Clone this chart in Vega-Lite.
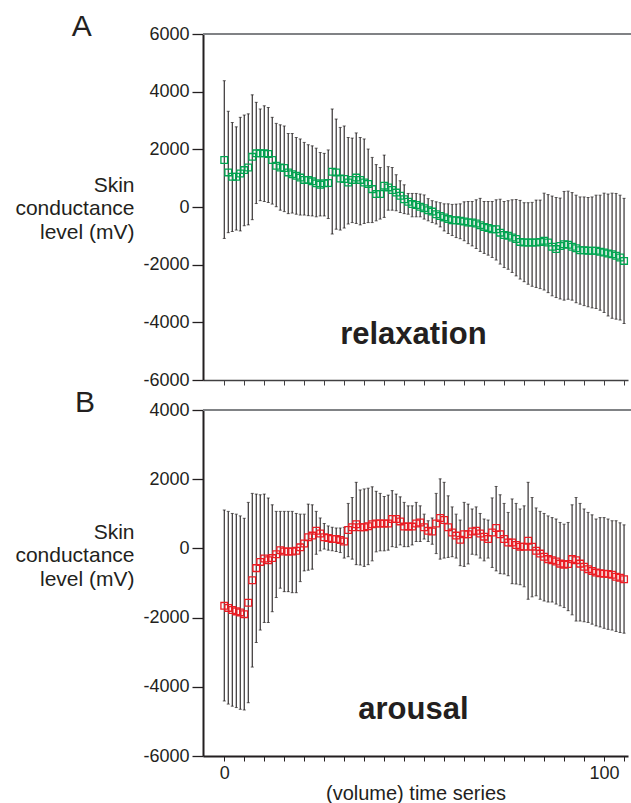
{
  "$schema": "https://vega.github.io/schema/vega-lite/v6.json",
  "background": "white",
  "padding": {"left": 14, "top": 11, "right": 0, "bottom": 0},
  "bounds": "flush",
  "spacing": 30,
  "config": {
    "view": {"stroke": null},
    "font": "Liberation Sans",
    "text": {"font": "Liberation Sans", "color": "#231f20"},
    "axis": {"labelOverlap": false, "labelFlush": false}
  },
  "datasets": {
    "relax": [
      {"t":0,"m":1630,"lo":-1090,"hi":4380},{"t":1.05,"m":1200,"lo":-890,"hi":3320},{"t":2.11,"m":1050,"lo":-850,"hi":2930},{"t":3.16,"m":1050,"lo":-800,"hi":2780},{"t":4.21,"m":1160,"lo":-830,"hi":3110},{"t":5.26,"m":1280,"lo":-650,"hi":3190},{"t":6.32,"m":1370,"lo":-620,"hi":3230},{"t":7.37,"m":1740,"lo":-440,"hi":3890},{"t":8.42,"m":1860,"lo":120,"hi":3630},{"t":9.47,"m":1860,"lo":220,"hi":3400},
      {"t":10.53,"m":1860,"lo":190,"hi":3510},{"t":11.58,"m":1840,"lo":160,"hi":3450},{"t":12.63,"m":1630,"lo":100,"hi":3110},{"t":13.68,"m":1430,"lo":10,"hi":2900},{"t":14.74,"m":1370,"lo":-110,"hi":2850},{"t":15.79,"m":1350,"lo":-160,"hi":2810},{"t":16.84,"m":1200,"lo":-230,"hi":2550},{"t":17.89,"m":1140,"lo":-210,"hi":2550},{"t":18.95,"m":1080,"lo":-250,"hi":2410},{"t":20,"m":1020,"lo":-280,"hi":2360},
      {"t":21.05,"m":940,"lo":-280,"hi":2240},{"t":22.11,"m":940,"lo":-300,"hi":2160},{"t":23.16,"m":890,"lo":-310,"hi":2120},{"t":24.21,"m":820,"lo":-340,"hi":2040},{"t":25.26,"m":770,"lo":-310,"hi":1890},{"t":26.32,"m":820,"lo":-310,"hi":1860},{"t":27.37,"m":830,"lo":-400,"hi":1980},{"t":28.42,"m":1220,"lo":-940,"hi":3400},{"t":29.47,"m":1200,"lo":-770,"hi":3050},{"t":30.53,"m":990,"lo":-800,"hi":2760},
      {"t":31.58,"m":970,"lo":-730,"hi":2810},{"t":32.63,"m":850,"lo":-590,"hi":2410},{"t":33.68,"m":940,"lo":-540,"hi":2390},{"t":34.74,"m":1020,"lo":-570,"hi":2570},{"t":35.79,"m":940,"lo":-620,"hi":2410},{"t":36.84,"m":850,"lo":-570,"hi":2360},{"t":37.89,"m":800,"lo":-540,"hi":2010},{"t":38.95,"m":620,"lo":-540,"hi":1720},{"t":40,"m":450,"lo":-480,"hi":1470},{"t":41.05,"m":450,"lo":-420,"hi":1370},
      {"t":42.11,"m":740,"lo":-360,"hi":1800},{"t":43.16,"m":680,"lo":-110,"hi":1400},{"t":44.21,"m":590,"lo":-110,"hi":1370},{"t":45.26,"m":500,"lo":-130,"hi":1120},{"t":46.32,"m":390,"lo":-190,"hi":910},{"t":47.37,"m":270,"lo":-230,"hi":770},{"t":48.42,"m":180,"lo":-250,"hi":470},{"t":49.47,"m":100,"lo":-340,"hi":470},{"t":50.53,"m":70,"lo":-340,"hi":470},{"t":51.58,"m":10,"lo":-340,"hi":450},
      {"t":52.63,"m":-40,"lo":-420,"hi":420},{"t":53.68,"m":-110,"lo":-480,"hi":290},{"t":54.74,"m":-160,"lo":-540,"hi":220},{"t":55.79,"m":-250,"lo":-590,"hi":180},{"t":56.84,"m":-310,"lo":-690,"hi":150},{"t":57.89,"m":-360,"lo":-830,"hi":110},{"t":58.95,"m":-420,"lo":-920,"hi":110},{"t":60,"m":-460,"lo":-990,"hi":90},{"t":61.05,"m":-460,"lo":-1060,"hi":100},{"t":62.11,"m":-480,"lo":-1100,"hi":110},
      {"t":63.16,"m":-500,"lo":-1170,"hi":180},{"t":64.21,"m":-540,"lo":-1270,"hi":190},{"t":65.26,"m":-540,"lo":-1350,"hi":190},{"t":66.32,"m":-570,"lo":-1440,"hi":250},{"t":67.37,"m":-630,"lo":-1540,"hi":300},{"t":68.42,"m":-690,"lo":-1610,"hi":190},{"t":69.47,"m":-730,"lo":-1670,"hi":190},{"t":70.53,"m":-770,"lo":-1750,"hi":190},{"t":71.58,"m":-770,"lo":-1840,"hi":250},{"t":72.63,"m":-890,"lo":-1980,"hi":270},
      {"t":73.68,"m":-970,"lo":-2100,"hi":190},{"t":74.74,"m":-1000,"lo":-2160,"hi":220},{"t":75.79,"m":-1060,"lo":-2270,"hi":250},{"t":76.84,"m":-1110,"lo":-2390,"hi":260},{"t":77.89,"m":-1210,"lo":-2500,"hi":230},{"t":78.95,"m":-1230,"lo":-2590,"hi":150},{"t":80,"m":-1230,"lo":-2680,"hi":150},{"t":81.05,"m":-1230,"lo":-2750,"hi":160},{"t":82.11,"m":-1230,"lo":-2790,"hi":240},{"t":83.16,"m":-1210,"lo":-2830,"hi":240},
      {"t":84.21,"m":-1170,"lo":-2880,"hi":480},{"t":85.26,"m":-1230,"lo":-2970,"hi":430},{"t":86.32,"m":-1380,"lo":-3080,"hi":380},{"t":87.37,"m":-1460,"lo":-3140,"hi":330},{"t":88.42,"m":-1350,"lo":-3190,"hi":310},{"t":89.47,"m":-1290,"lo":-3230,"hi":540},{"t":90.53,"m":-1310,"lo":-3200,"hi":550},{"t":91.58,"m":-1380,"lo":-3230,"hi":500},{"t":92.63,"m":-1430,"lo":-3320,"hi":410},{"t":93.68,"m":-1500,"lo":-3370,"hi":350},
      {"t":94.74,"m":-1500,"lo":-3420,"hi":350},{"t":95.79,"m":-1520,"lo":-3460,"hi":330},{"t":96.84,"m":-1520,"lo":-3500,"hi":350},{"t":97.89,"m":-1520,"lo":-3520,"hi":410},{"t":98.95,"m":-1550,"lo":-3580,"hi":410},{"t":100,"m":-1580,"lo":-3660,"hi":480},{"t":101.05,"m":-1610,"lo":-3780,"hi":450},{"t":102.11,"m":-1640,"lo":-3860,"hi":480},{"t":103.16,"m":-1690,"lo":-3890,"hi":470},{"t":104.21,"m":-1750,"lo":-3920,"hi":410},
      {"t":105.26,"m":-1870,"lo":-4040,"hi":300}
    ],
    "arousal": [
      {"t":0,"m":-1660,"lo":-4410,"hi":1110},{"t":1.05,"m":-1720,"lo":-4500,"hi":1070},{"t":2.11,"m":-1780,"lo":-4560,"hi":1010},{"t":3.16,"m":-1820,"lo":-4600,"hi":990},{"t":4.21,"m":-1850,"lo":-4650,"hi":940},{"t":5.26,"m":-1900,"lo":-4670,"hi":870},{"t":6.32,"m":-1570,"lo":-4460,"hi":1330},{"t":7.37,"m":-920,"lo":-3430,"hi":1590},{"t":8.42,"m":-570,"lo":-2720,"hi":1570},{"t":9.47,"m":-390,"lo":-2360,"hi":1550},
      {"t":10.53,"m":-290,"lo":-2140,"hi":1570},{"t":11.58,"m":-340,"lo":-2140,"hi":1460},{"t":12.63,"m":-280,"lo":-1830,"hi":1260},{"t":13.68,"m":-170,"lo":-1420,"hi":1070},{"t":14.74,"m":-50,"lo":-1150,"hi":1070},{"t":15.79,"m":-90,"lo":-1250,"hi":1070},{"t":16.84,"m":-90,"lo":-1250,"hi":1070},{"t":17.89,"m":-90,"lo":-1280,"hi":1070},{"t":18.95,"m":-70,"lo":-1280,"hi":1010},{"t":20,"m":30,"lo":-960,"hi":990},
      {"t":21.05,"m":140,"lo":-650,"hi":990},{"t":22.11,"m":320,"lo":-630,"hi":1280},{"t":23.16,"m":370,"lo":-600,"hi":1260},{"t":24.21,"m":510,"lo":-170,"hi":1070},{"t":25.26,"m":430,"lo":-70,"hi":880},{"t":26.32,"m":320,"lo":-20,"hi":720},{"t":27.37,"m":300,"lo":-50,"hi":650},{"t":28.42,"m":270,"lo":-70,"hi":610},{"t":29.47,"m":270,"lo":-90,"hi":590},{"t":30.53,"m":240,"lo":-120,"hi":590},
      {"t":31.58,"m":200,"lo":-280,"hi":610},{"t":32.63,"m":530,"lo":-240,"hi":1300},{"t":33.68,"m":610,"lo":-310,"hi":1470},{"t":34.74,"m":700,"lo":-470,"hi":1910},{"t":35.79,"m":610,"lo":-480,"hi":1690},{"t":36.84,"m":610,"lo":-520,"hi":1720},{"t":37.89,"m":640,"lo":-470,"hi":1740},{"t":38.95,"m":700,"lo":-360,"hi":1780},{"t":40,"m":720,"lo":-100,"hi":1650},{"t":41.05,"m":720,"lo":-70,"hi":1590},
      {"t":42.11,"m":720,"lo":-70,"hi":1500},{"t":43.16,"m":720,"lo":-50,"hi":1540},{"t":44.21,"m":850,"lo":50,"hi":1670},{"t":45.26,"m":850,"lo":30,"hi":1570},{"t":46.32,"m":780,"lo":100,"hi":1490},{"t":47.37,"m":630,"lo":50,"hi":1330},{"t":48.42,"m":630,"lo":50,"hi":1230},{"t":49.47,"m":630,"lo":100,"hi":1230},{"t":50.53,"m":720,"lo":200,"hi":1330},{"t":51.58,"m":750,"lo":200,"hi":1230},
      {"t":52.63,"m":610,"lo":270,"hi":990},{"t":53.68,"m":510,"lo":200,"hi":800},{"t":54.74,"m":490,"lo":120,"hi":880},{"t":55.79,"m":720,"lo":-150,"hi":1590},{"t":56.84,"m":880,"lo":-310,"hi":2010},{"t":57.89,"m":820,"lo":-280,"hi":1910},{"t":58.95,"m":610,"lo":-260,"hi":1520},{"t":60,"m":460,"lo":-240,"hi":1200},{"t":61.05,"m":370,"lo":-280,"hi":990},{"t":62.11,"m":250,"lo":-500,"hi":820},
      {"t":63.16,"m":410,"lo":-520,"hi":1330},{"t":64.21,"m":410,"lo":-450,"hi":1280},{"t":65.26,"m":490,"lo":-170,"hi":1140},{"t":66.32,"m":510,"lo":-190,"hi":1200},{"t":67.37,"m":430,"lo":-280,"hi":1010},{"t":68.42,"m":340,"lo":-360,"hi":850},{"t":69.47,"m":270,"lo":-280,"hi":820},{"t":70.53,"m":460,"lo":-550,"hi":1460},{"t":71.58,"m":590,"lo":-650,"hi":1790},{"t":72.63,"m":410,"lo":-730,"hi":1550},
      {"t":73.68,"m":270,"lo":-740,"hi":1300},{"t":74.74,"m":170,"lo":-790,"hi":1040},{"t":75.79,"m":170,"lo":-1020,"hi":1430},{"t":76.84,"m":100,"lo":-1030,"hi":1300},{"t":77.89,"m":50,"lo":-1050,"hi":1140},{"t":78.95,"m":50,"lo":-1110,"hi":1230},{"t":80,"m":220,"lo":-1470,"hi":1910},{"t":81.05,"m":50,"lo":-1400,"hi":1470},{"t":82.11,"m":-70,"lo":-1370,"hi":1170},{"t":83.16,"m":-150,"lo":-1470,"hi":1070},
      {"t":84.21,"m":-240,"lo":-1520,"hi":1010},{"t":85.26,"m":-310,"lo":-1550,"hi":940},{"t":86.32,"m":-340,"lo":-1550,"hi":890},{"t":87.37,"m":-380,"lo":-1610,"hi":850},{"t":88.42,"m":-440,"lo":-1660,"hi":750},{"t":89.47,"m":-470,"lo":-1710,"hi":700},{"t":90.53,"m":-450,"lo":-1800,"hi":750},{"t":91.58,"m":-310,"lo":-1920,"hi":1260},{"t":92.63,"m":-340,"lo":-2100,"hi":1470},{"t":93.68,"m":-440,"lo":-2100,"hi":1300},
      {"t":94.74,"m":-530,"lo":-2120,"hi":1140},{"t":95.79,"m":-600,"lo":-2140,"hi":1040},{"t":96.84,"m":-650,"lo":-2190,"hi":970},{"t":97.89,"m":-700,"lo":-2240,"hi":850},{"t":98.95,"m":-720,"lo":-2270,"hi":890},{"t":100,"m":-730,"lo":-2310,"hi":890},{"t":101.05,"m":-740,"lo":-2340,"hi":850},{"t":102.11,"m":-760,"lo":-2360,"hi":800},{"t":103.16,"m":-820,"lo":-2400,"hi":800},{"t":104.21,"m":-850,"lo":-2430,"hi":740},
      {"t":105.26,"m":-890,"lo":-2450,"hi":680}
    ]
  },
  "vconcat": [
    {
      "width": 425,
      "height": 346,
      "layer": [
        {
          "data": {"name": "relax"},
          "mark": {"type": "rule", "color": "#231f20", "strokeWidth": 1.1},
          "encoding": {
            "x": {"field": "t", "type": "quantitative",
              "scale": {"domain": [-5.6, 106.3], "nice": false, "zero": false},
              "axis": {"orient": "bottom", "values": [0,5.263,10.526,15.789,21.053,26.316,31.579,36.842,42.105,47.368,52.632,57.895,63.158,68.421,73.684,78.947,84.211,89.474,94.737,100,105.263], "tickCount": 40,
                "labels": false, "title": null, "grid": false, "tickSize": 5, "tickColor": "#414042", "tickWidth": 1, "domainColor": "#414042", "domainWidth": 1.5}},
            "y": {"field": "lo", "type": "quantitative",
              "scale": {"domain": [-6000, 6000], "nice": false, "zero": false},
              "axis": {"values": [-6000,-4000,-2000,0,2000,4000,6000], "labelExpr": "toString(datum.value)", "grid": false, "tickSize": 11, "tickColor": "#231f20", "tickWidth": 1.3,
                "domainColor": "#231f20", "domainWidth": 2, "labelFontSize": 18, "labelColor": "#231f20", "labelPadding": 3, "labelFont": "Liberation Sans",
                "title": ["Skin", "conductance", "level (mV)"], "titleAngle": 0, "titleAlign": "right", "titleBaseline": "alphabetic",
                "titleX": -69, "titleY": 157, "titleFontSize": 21, "titleFontWeight": "normal", "titleLineHeight": 23.5, "titleColor": "#231f20", "titleFont": "Liberation Sans"}},
            "y2": {"field": "hi"}
          }
        },
        {
          "data": {"name": "relax"},
          "mark": {"type": "tick", "orient": "horizontal", "size": 3, "thickness": 1, "color": "#231f20"},
          "encoding": {"x": {"field": "t", "type": "quantitative"}, "y": {"field": "hi", "type": "quantitative"}}
        },
        {
          "data": {"name": "relax"},
          "mark": {"type": "tick", "orient": "horizontal", "size": 3, "thickness": 1, "color": "#231f20"},
          "encoding": {"x": {"field": "t", "type": "quantitative"}, "y": {"field": "lo", "type": "quantitative"}}
        },
        {
          "data": {"name": "relax"},
          "mark": {"type": "point", "shape": "square", "filled": false, "size": 45, "strokeWidth": 1.3, "color": "#00a651", "opacity": 1},
          "encoding": {"x": {"field": "t", "type": "quantitative"}, "y": {"field": "m", "type": "quantitative"}}
        },
        {
          "data": {"values": [{"a": 1}]},
          "mark": {"type": "rule", "color": "#808285", "strokeWidth": 2},
          "encoding": {"x": {"datum": -5.6}, "x2": {"datum": 107.4}, "y": {"datum": 6000}}
        },
        {
          "data": {"values": [{"label": "relaxation"}]},
          "mark": {"type": "text", "fontSize": 31, "fontWeight": "bold", "align": "center", "baseline": "alphabetic", "color": "#231f20"},
          "encoding": {"x": {"datum": 49.8}, "y": {"datum": -4760}, "text": {"field": "label"}}
        },
        {
          "data": {"values": [{"label": "A"}]},
          "mark": {"type": "text", "fontSize": 30, "align": "center", "baseline": "alphabetic", "color": "#231f20"},
          "encoding": {"x": {"datum": -37.5}, "y": {"datum": 5940}, "text": {"field": "label"}}
        }
      ]
    },
    {
      "width": 425,
      "height": 346,
      "layer": [
        {
          "data": {"name": "arousal"},
          "mark": {"type": "rule", "color": "#231f20", "strokeWidth": 1.1},
          "encoding": {
            "x": {"field": "t", "type": "quantitative",
              "scale": {"domain": [-5.6, 106.3], "nice": false, "zero": false},
              "axis": {"orient": "bottom", "values": [0,5.263,10.526,15.789,21.053,26.316,31.579,36.842,42.105,47.368,52.632,57.895,63.158,68.421,73.684,78.947,84.211,89.474,94.737,100,105.263], "tickCount": 40,
                "format": "d",
                "labelExpr": "(datum.label == '0' || datum.label == '100') ? datum.label : ''",
                "labelFontSize": 18, "labelColor": "#231f20", "labelPadding": 3, "labelFont": "Liberation Sans", "labelOverlap": false, "labelFlush": false, "labelBound": false,
                "title": "(volume) time series", "titleFontSize": 20, "titleFontWeight": "normal", "titleColor": "#231f20", "titlePadding": 1, "titleFont": "Liberation Sans",
                "grid": false, "tickSize": 5, "tickColor": "#231f20", "tickWidth": 1, "domainColor": "#231f20", "domainWidth": 2}},
            "y": {"field": "lo", "type": "quantitative",
              "scale": {"domain": [-6000, 4000], "nice": false, "zero": false},
              "axis": {"values": [-6000,-4000,-2000,0,2000,4000], "labelExpr": "toString(datum.value)", "grid": false, "tickSize": 11, "tickColor": "#231f20", "tickWidth": 1.3,
                "domainColor": "#231f20", "domainWidth": 2, "labelFontSize": 18, "labelColor": "#231f20", "labelPadding": 3, "labelFont": "Liberation Sans",
                "title": ["Skin", "conductance", "level (mV)"], "titleAngle": 0, "titleAlign": "right", "titleBaseline": "alphabetic",
                "titleX": -69, "titleY": 128, "titleFontSize": 21, "titleFontWeight": "normal", "titleLineHeight": 23.5, "titleColor": "#231f20", "titleFont": "Liberation Sans"}},
            "y2": {"field": "hi"}
          }
        },
        {
          "data": {"name": "arousal"},
          "mark": {"type": "tick", "orient": "horizontal", "size": 3, "thickness": 1, "color": "#231f20"},
          "encoding": {"x": {"field": "t", "type": "quantitative"}, "y": {"field": "hi", "type": "quantitative"}}
        },
        {
          "data": {"name": "arousal"},
          "mark": {"type": "tick", "orient": "horizontal", "size": 3, "thickness": 1, "color": "#231f20"},
          "encoding": {"x": {"field": "t", "type": "quantitative"}, "y": {"field": "lo", "type": "quantitative"}}
        },
        {
          "data": {"name": "arousal"},
          "mark": {"type": "point", "shape": "square", "filled": false, "size": 45, "strokeWidth": 1.3, "color": "#ed1c24", "opacity": 1},
          "encoding": {"x": {"field": "t", "type": "quantitative"}, "y": {"field": "m", "type": "quantitative"}}
        },
        {
          "data": {"values": [{"a": 1}]},
          "mark": {"type": "rule", "color": "#808285", "strokeWidth": 2},
          "encoding": {"x": {"datum": -5.6}, "x2": {"datum": 107.4}, "y": {"datum": 4000}}
        },
        {
          "data": {"values": [{"label": "arousal"}]},
          "mark": {"type": "text", "fontSize": 31, "fontWeight": "bold", "align": "center", "baseline": "alphabetic", "color": "#231f20"},
          "encoding": {"x": {"datum": 49.8}, "y": {"datum": -4940}, "text": {"field": "label"}}
        },
        {
          "data": {"values": [{"label": "B"}]},
          "mark": {"type": "text", "fontSize": 30, "align": "center", "baseline": "alphabetic", "color": "#231f20"},
          "encoding": {"x": {"datum": -36.7}, "y": {"datum": 3930}, "text": {"field": "label"}}
        }
      ]
    }
  ]
}
